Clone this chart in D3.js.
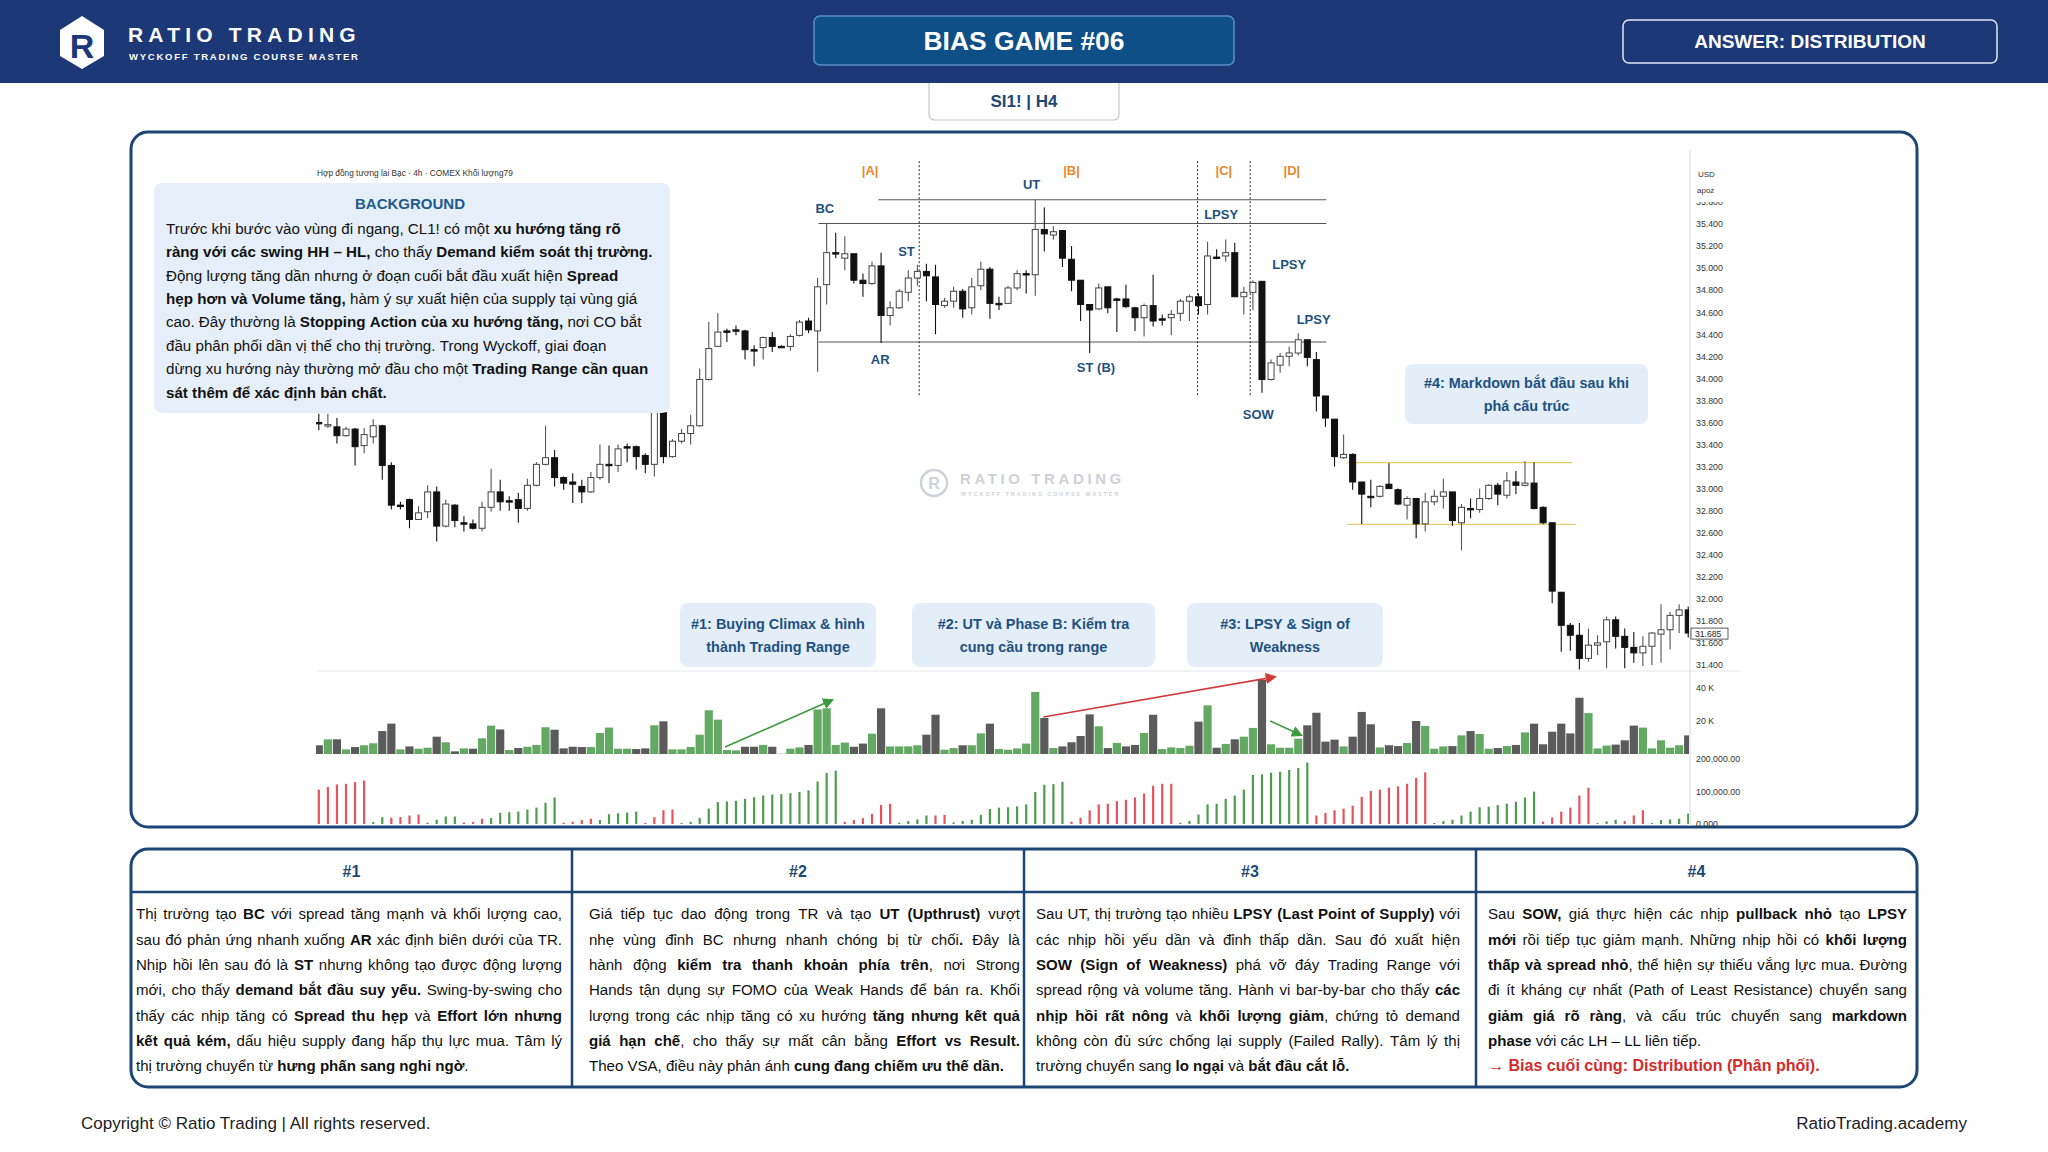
<!DOCTYPE html>
<html><head><meta charset="utf-8">
<script src="https://cdn.jsdelivr.net/npm/d3@7"></script>
<style>html,body{margin:0;padding:0;background:#fff;}svg{display:block;}</style>
</head><body>
<svg id="c" width="2048" height="1152"></svg>
<script>
// ---------------- DATA ----------------
const opens = [33.60,33.57,33.56,33.48,33.54,33.39,33.47,33.57,33.21,32.85,32.90,32.72,32.79,32.97,32.66,32.85,32.69,32.68,32.64,32.83,
32.97,32.89,32.90,32.82,33.03,33.22,33.28,33.10,33.06,33.02,32.97,33.10,33.22,33.21,33.38,33.38,33.30,33.22,33.69,33.29,
33.43,33.50,33.57,33.99,34.29,34.43,34.44,34.43,34.26,34.28,34.37,34.29,34.29,34.39,34.52,34.43,34.85,35.14,35.09,35.13,
34.89,34.86,35.02,34.57,34.64,34.78,34.91,34.97,34.92,34.66,34.70,34.79,34.64,34.84,34.99,34.68,34.68,34.82,34.95,34.94,
35.35,35.30,35.34,35.08,34.89,34.67,34.63,34.83,34.72,34.72,34.64,34.55,34.66,34.54,34.55,34.59,34.70,34.74,34.67,35.10,
35.11,35.14,34.74,34.78,34.88,33.99,34.12,34.20,34.23,34.35,34.17,33.84,33.63,33.28,33.31,33.06,32.93,32.93,33.04,32.99,
32.85,32.91,32.68,32.88,32.93,32.97,32.69,32.82,32.81,32.91,33.03,32.94,33.06,33.03,33.05,32.83,32.69,32.06,31.76,31.67,
31.46,31.58,31.61,31.81,31.66,31.56,31.51,31.57,31.68,31.72,31.85,31.90];
const highs = [33.68,33.68,33.64,33.56,33.55,33.55,33.63,33.58,33.24,32.88,32.91,32.84,33.03,33.02,32.90,32.86,32.75,32.72,32.88,33.18,
33.08,32.93,32.96,33.09,33.24,33.57,33.35,33.11,33.14,33.08,33.15,33.40,33.39,33.40,33.41,33.39,33.32,33.73,33.73,33.45,
33.54,33.67,34.09,34.51,34.59,34.45,34.48,34.44,34.30,34.38,34.42,34.30,34.40,34.53,34.55,34.91,35.41,35.32,35.29,35.13,
34.95,35.06,35.14,34.70,34.81,34.98,35.03,35.04,35.03,34.73,34.83,34.81,34.91,35.06,35.01,34.74,34.84,34.98,34.98,35.62,
35.55,35.38,35.34,35.20,34.89,34.67,34.86,34.83,34.73,34.85,34.65,34.68,34.94,34.58,34.62,34.72,34.76,34.77,35.24,35.17,
35.26,35.23,34.83,34.89,34.88,34.17,34.23,34.29,34.41,34.35,34.24,33.84,33.63,33.49,33.32,33.06,33.08,33.03,33.23,33.00,
32.93,32.91,32.96,32.99,33.09,32.97,32.86,32.91,33.00,33.04,33.05,33.15,33.16,33.25,33.24,32.84,32.69,32.06,31.78,31.78,
31.73,31.67,31.84,31.84,31.73,31.70,31.66,31.70,31.95,31.88,31.95,31.93];
const lows = [33.53,33.55,33.41,33.47,33.21,33.32,33.41,33.08,32.81,32.81,32.64,32.72,32.73,32.52,32.65,32.65,32.61,32.63,32.61,32.79,
32.80,32.80,32.69,32.80,33.02,33.21,33.02,32.99,32.87,32.87,32.96,33.08,33.05,33.15,33.24,33.17,33.14,33.11,33.23,33.28,
33.41,33.40,33.56,33.98,34.29,34.33,34.39,34.17,34.11,34.17,34.24,34.28,34.25,34.38,34.41,34.06,34.67,35.09,34.98,34.86,
34.74,34.85,34.32,34.48,34.63,34.70,34.84,34.70,34.40,34.64,34.64,34.55,34.58,34.80,34.54,34.62,34.68,34.80,34.77,34.75,
35.15,35.26,35.01,34.79,34.52,34.23,34.62,34.59,34.42,34.64,34.43,34.38,34.47,34.48,34.39,34.52,34.52,34.58,34.58,35.08,
35.06,34.74,34.58,34.62,33.87,33.98,34.05,34.11,34.21,34.11,33.70,33.56,33.20,33.27,32.99,32.68,32.83,32.92,33.00,32.85,
32.72,32.55,32.61,32.85,32.82,32.66,32.44,32.73,32.78,32.90,32.85,32.91,32.95,33.02,32.81,32.68,31.96,31.52,31.53,31.36,
31.43,31.49,31.37,31.55,31.37,31.42,31.39,31.40,31.42,31.54,31.69,31.65];
const closes = [33.59,33.58,33.48,33.54,33.38,33.49,33.57,33.21,32.85,32.85,32.72,32.78,32.97,32.66,32.86,32.71,32.69,32.64,32.83,32.97,
32.88,32.89,32.82,33.03,33.22,33.28,33.10,33.05,33.04,32.97,33.10,33.22,33.22,33.36,33.38,33.29,33.22,33.69,33.29,33.43,
33.50,33.57,33.99,34.27,34.42,34.43,34.44,34.26,34.25,34.37,34.29,34.29,34.38,34.51,34.44,34.83,35.14,35.14,35.13,34.89,
34.86,35.02,34.57,34.64,34.79,34.91,34.97,34.93,34.67,34.70,34.79,34.63,34.83,34.99,34.68,34.68,34.82,34.95,34.95,35.35,
35.31,35.33,35.09,34.89,34.67,34.62,34.82,34.64,34.72,34.65,34.55,34.66,34.52,34.54,34.58,34.70,34.74,34.66,35.11,35.09,
35.14,34.74,34.78,34.87,33.99,34.14,34.20,34.23,34.35,34.19,33.84,33.64,33.29,33.31,33.06,32.95,32.92,33.02,33.00,32.86,
32.91,32.68,32.88,32.93,32.97,32.71,32.83,32.81,32.91,33.03,32.95,33.07,33.03,33.05,32.82,32.69,32.07,31.76,31.67,31.46,
31.58,31.60,31.81,31.66,31.56,31.51,31.57,31.69,31.72,31.85,31.90,31.69];
// volume in thousands
const volumes = [5.3,8.9,8.9,2.8,4.2,5.3,6.5,13.9,18.4,2.8,4.6,3.2,3.8,10.5,7.1,1.6,3.4,3.2,9.5,17.2,
14.9,2.4,3.6,4.4,5.5,16.2,14.7,3.4,4.4,4.2,4.2,12.7,16.0,3.2,3.2,3.0,3.4,17.4,19.8,2.8,
2.8,4.2,11.7,26.5,20.8,2.4,2.2,4.4,4.4,5.5,4.4,0.2,3.2,4.0,5.5,27.0,27.7,5.5,6.9,4.4,
6.3,12.3,27.7,4.6,4.6,4.6,5.3,11.7,23.8,2.6,3.6,5.3,5.3,12.5,18.4,3.0,2.6,3.4,6.3,37.6,
21.8,3.6,4.6,7.1,10.9,24.0,16.8,3.6,6.7,4.6,5.5,12.7,23.8,3.0,4.0,3.6,5.0,19.6,29.5,3.8,
6.1,8.9,10.5,15.8,45.0,5.9,3.8,3.8,9.3,17.4,25.0,7.5,8.7,4.6,10.5,25.5,18.0,4.0,5.3,4.8,
6.7,20.0,17.0,3.2,4.6,4.8,11.3,13.9,12.1,3.2,3.6,4.8,5.5,13.1,18.4,5.9,13.5,18.4,12.5,34.1,
24.8,3.4,5.1,5.7,8.3,17.2,16.0,3.4,8.3,3.8,5.3,11.3];
// wave volume (thousands) — negative = selling wave (red)
const waveVolume = [-105,-113,-121,-123,-128,-133,6,21,-19,-21,-26,-29,4,13,23,23,-4,-6,-16,18,
34,36,38,44,50,65,81,-4,-7,-12,-16,12,30,33,35,38,-3,-21,-42,-44,
3,7,19,47,67,69,71,77,82,87,90,91,94,98,103,130,156,163,-7,-12,
-18,-31,-58,-62,4,9,14,26,-26,-28,5,9,13,28,46,50,51,54,60,98,
120,122,129,-7,-19,-42,-60,-62,-70,-74,-81,-93,-117,-123,-123,4,9,29,60,62,
77,87,105,150,152,157,160,165,171,188,-26,-34,-42,-47,-56,-83,-101,-105,-111,-115,
-123,-141,-158,3,9,13,26,38,51,53,58,62,68,81,99,-7,-20,-38,-50,-87,
-111,3,8,13,-9,-26,-42,3,12,14,16,32];
const priceTicks = [31.4,31.6,31.8,32.0,32.2,32.4,32.6,32.8,33.0,33.2,33.4,33.6,33.8,34.0,34.2,34.4,34.6,34.8,35.0,35.2,35.4,35.6];
const volTicks = [20,40];
const waveTicks = [0,100,200];
const lastPrice = 31.685;

const eventLabels = [
 {t:'BC',i:56.8,p:35.545},{t:'UT',i:79.6,p:35.763},{t:'ST',i:65.8,p:35.155},{t:'AR',i:62.9,p:34.176},
 {t:'ST (B)',i:86.7,p:34.103},{t:'LPSY',i:100.5,p:35.49},{t:'LPSY',i:108.0,p:35.037},{t:'LPSY',i:110.7,p:34.538},
 {t:'SOW',i:104.6,p:33.677}];
const phaseLabels = [{t:'|A|',i:61.8},{t:'|B|',i:84.0},{t:'|C|',i:100.8},{t:'|D|',i:108.3}];
const phaseDividers = [67.2,97.9,103.7];
const levelLines = [
 {p:35.62,i1:62.7,i2:112.1,kind:'range'},{p:35.405,i1:56.1,i2:112.1,kind:'range'},{p:34.33,i1:56.1,i2:112.1,kind:'range'},
 {p:33.235,i1:114.4,i2:139.2,kind:'re'},{p:32.676,i1:114.4,i2:139.6,kind:'re'}];
const volArrows = [
 {i1:45.8,v1:4.2,i2:57.6,v2:32.7,c:'#3d9b3d'},{i1:80.9,v1:22.4,i2:106.4,v2:46.7,c:'#d23a3a'},{i1:105.9,v1:20,i2:109.3,v2:11.5,c:'#3d9b3d'}];

const bgLines = [
"Trước khi bước vào vùng đi ngang, CL1! có một **xu hướng tăng rõ**",
"**ràng với các swing HH – HL,** cho thấy **Demand kiểm soát thị trường.**",
"Động lượng tăng dần nhưng ở đoạn cuối bắt đầu xuất hiện **Spread**",
"**hẹp hơn và Volume tăng,** hàm ý sự xuất hiện của supply tại vùng giá",
"cao. Đây thường là **Stopping Action của xu hướng tăng,** nơi CO bắt",
"đầu phân phối dần vị thế cho thị trường. Trong Wyckoff, giai đoạn",
"dừng xu hướng này thường mở đầu cho một **Trading Range cần quan**",
"**sát thêm để xác định bản chất.**"];
const noteBoxes = [
 {lines:["#1: Buying Climax & hình","thành Trading Range"],x:680,y:603,w:196,h:64},
 {lines:["#2: UT và Phase B: Kiểm tra","cung cầu trong range"],x:912,y:603,w:243,h:64},
 {lines:["#3: LPSY & Sign of","Weakness"],x:1187,y:603,w:196,h:64},
 {lines:["#4: Markdown bắt đầu sau khi","phá cấu trúc"],x:1405,y:364,w:243,h:60}];
const tableHeads = ["#1","#2","#3","#4"];
const tableCols = [
 ["Thị trường tạo **BC** với spread tăng mạnh và khối lượng cao,",
  "sau đó phản ứng nhanh xuống **AR** xác định biên dưới của TR.",
  "Nhịp hồi lên sau đó là **ST** nhưng không tạo được động lượng",
  "mới, cho thấy **demand bắt đầu suy yếu.** Swing-by-swing cho",
  "thấy các nhịp tăng có **Spread thu hẹp** và **Effort lớn nhưng**",
  "**kết quả kém,** dấu hiệu supply đang hấp thụ lực mua. Tâm lý",
  "thị trường chuyển từ **hưng phấn sang nghi ngờ**."],
 ["Giá tiếp tục dao động trong TR và tạo **UT (Upthrust)** vượt",
  "nhẹ vùng đỉnh BC nhưng nhanh chóng bị từ chối**.** Đây là",
  "hành động **kiểm tra thanh khoản phía trên**, nơi Strong",
  "Hands tận dụng sự FOMO của Weak Hands để bán ra. Khối",
  "lượng trong các nhịp tăng có xu hướng **tăng nhưng kết quả**",
  "**giá hạn chế**, cho thấy sự mất cân bằng **Effort vs Result.**",
  "Theo VSA, điều này phản ánh **cung đang chiếm ưu thế dần.**"],
 ["Sau UT, thị trường tạo nhiều **LPSY (Last Point of Supply)** với",
  "các nhịp hồi yếu dần và đỉnh thấp dần. Sau đó xuất hiện",
  "**SOW (Sign of Weakness)** phá vỡ đáy Trading Range với",
  "spread rộng và volume tăng. Hành vi bar-by-bar cho thấy **các**",
  "**nhịp hồi rất nông** và **khối lượng giảm**, chứng tỏ demand",
  "không còn đủ sức chống lại supply (Failed Rally). Tâm lý thị",
  "trường chuyển sang **lo ngại** và **bắt đầu cắt lỗ.**"],
 ["Sau **SOW,** giá thực hiện các nhịp **pullback nhỏ** tạo **LPSY**",
  "**mới** rồi tiếp tục giảm mạnh. Những nhịp hồi có **khối lượng**",
  "**thấp và spread nhỏ**, thể hiện sự thiếu vắng lực mua. Đường",
  "đi ít kháng cự nhất (Path of Least Resistance) chuyển sang",
  "**giảm giá rõ ràng**, và cấu trúc chuyển sang **markdown**",
  "**phase** với các LH – LL liên tiếp.",
  "**→ Bias cuối cùng: Distribution (Phân phối).**"]];
const justifyCount = [6,6,6,5];

// ---------------- HELPERS ----------------
const F = "'Liberation Sans', Arial, Helvetica, sans-serif";
const cvs = document.createElement('canvas').getContext('2d');
function tw(s,size,bold){ cvs.font=(bold?'bold ':'')+size+'px '+F; return cvs.measureText(s).width; }
function parseRich(line){
  const words=[]; let cur=[]; let bold=false; let buf='';
  const flush=()=>{ if(buf){cur.push({t:buf,b:bold}); buf='';} };
  for(let i=0;i<line.length;i++){
    if(line[i]==='*'&&line[i+1]==='*'){flush(); bold=!bold; i++; continue;}
    if(line[i]===' '){flush(); if(cur.length) words.push(cur); cur=[]; continue;}
    buf+=line[i];
  }
  flush(); if(cur.length) words.push(cur);
  return words;
}
function richWidth(line,size){
  const w=parseRich(line); return d3.sum(w,ws=>d3.sum(ws,r=>tw(r.t,size,r.b)))+tw(' ',size,false)*(w.length-1);
}
function drawRich(g,line,x,y,width,size,justify,color){
  const words=parseRich(line);
  const ww=words.map(w=>d3.sum(w,r=>tw(r.t,size,r.b)));
  const sp=tw(' ',size,false);
  let gap=sp;
  if(justify&&words.length>1) gap=(width-d3.sum(ww))/(words.length-1);
  let cx=x;
  words.forEach((w,k)=>{
    const t=g.append('text').attr('x',cx).attr('y',y).attr('font-size',size).attr('fill',color).attr('font-family',F);
    w.forEach(r=>t.append('tspan').attr('font-weight',r.b?'bold':'normal').text(r.t));
    cx+=ww[k]+gap;
  });
}
function fitSize(text,bold,target,base){ return base*target/tw(text,base,bold); }

const svg=d3.select('#c');
const NAVY='#1c3876', DEEP='#1d4775', LABEL='#1e5180';

// ---------------- HEADER ----------------
svg.append('rect').attr('x',0).attr('y',0).attr('width',2048).attr('height',83).attr('fill',NAVY);
const lg=svg.append('g');
lg.append('path').attr('d','M60,30 L82,16 L104,30 L104,56 L82,69 L60,56 Z').attr('fill','#fff');
lg.append('text').attr('x',82).attr('y',58).attr('text-anchor','middle').attr('font-family',F).attr('font-weight','bold')
  .attr('font-size',34).attr('fill',NAVY).text('R');
svg.append('text').attr('x',128).attr('y',42).attr('font-family',F).attr('font-weight','bold').attr('font-size',21)
  .attr('letter-spacing',5.2).attr('fill','#fff').text('RATIO TRADING');
svg.append('text').attr('x',129).attr('y',60).attr('font-family',F).attr('font-weight','bold').attr('font-size',9.5)
  .attr('letter-spacing',1.75).attr('fill','#fff').text('WYCKOFF TRADING COURSE MASTER');
svg.append('rect').attr('x',814).attr('y',16).attr('width',420).attr('height',49).attr('rx',6)
  .attr('fill','#0d4f86').attr('stroke','#5a8fc7').attr('stroke-width',1.5);
svg.append('text').attr('x',1024).attr('y',50).attr('text-anchor','middle').attr('font-family',F).attr('font-weight','bold')
  .attr('font-size',fitSize('BIAS GAME #06',true,201,26)).attr('fill','#fff').text('BIAS GAME #06');
svg.append('rect').attr('x',1623).attr('y',20).attr('width',374).attr('height',43).attr('rx',6)
  .attr('fill',NAVY).attr('stroke','#dfe7f3').attr('stroke-width',1.5);
svg.append('text').attr('x',1810).attr('y',48).attr('text-anchor','middle').attr('font-family',F).attr('font-weight','bold')
  .attr('font-size',fitSize('ANSWER: DISTRIBUTION',true,232,19)).attr('fill','#fff').text('ANSWER: DISTRIBUTION');
svg.append('path').attr('d','M929,83 L929,114 Q929,120 935,120 L1113,120 Q1119,120 1119,114 L1119,83')
  .attr('fill','#fff').attr('stroke','#c3c7ce').attr('stroke-width',1.2);
svg.append('text').attr('x',1024).attr('y',107).attr('text-anchor','middle').attr('font-family',F).attr('font-weight','bold')
  .attr('font-size',17).attr('fill',DEEP).text('SI1! | H4');

// ---------------- CHART PANEL ----------------
svg.append('rect').attr('x',131).attr('y',132).attr('width',1786).attr('height',695).attr('rx',17)
  .attr('fill','#fff').attr('stroke','#1c4474').attr('stroke-width',3);

const N=opens.length;
const x=d3.scaleLinear().domain([1,N]).range([318.8,318.8+(N-1)*9.069]);
const y=d3.scaleLinear().domain([31.4,35.4]).range([665,224]);
const yv=d3.scaleLinear().domain([0,40]).range([754,688]);
const yw=d3.scaleLinear().domain([0,200]).range([824,758.6]);

const defs=svg.append('defs');
defs.append('clipPath').attr('id','plot').append('rect').attr('x',316).attr('y',140).attr('width',1373).attr('height',690);
defs.append('clipPath').attr('id','axclip').append('rect').attr('x',1690).attr('y',202).attr('width',60).attr('height',476);
['#3d9b3d','#d23a3a'].forEach((c,k)=>{
  defs.append('marker').attr('id','ah'+k).attr('viewBox','0 0 10 10').attr('refX',8).attr('refY',5)
   .attr('markerWidth',7).attr('markerHeight',7).attr('orient','auto')
   .append('path').attr('d','M0,0 L10,5 L0,10 Z').attr('fill',c);
});

// watermark
const wm=svg.append('g').attr('opacity',0.9);
wm.append('circle').attr('cx',934).attr('cy',483).attr('r',13).attr('fill','none').attr('stroke','#c9cdd4').attr('stroke-width',2.5);
wm.append('text').attr('x',934).attr('y',489).attr('text-anchor','middle').attr('font-family',F).attr('font-weight','bold')
  .attr('font-size',16).attr('fill','#c9cdd4').text('R');
wm.append('text').attr('x',960).attr('y',484).attr('font-family',F).attr('font-weight','bold').attr('font-size',15)
  .attr('letter-spacing',3.6).attr('fill','#c9cdd4').text('RATIO TRADING');
wm.append('text').attr('x',961).attr('y',496).attr('font-family',F).attr('font-weight','bold').attr('font-size',5.5)
  .attr('letter-spacing',1.9).attr('fill','#c9cdd4').text('WYCKOFF TRADING COURSE MASTER');

svg.append('text').attr('x',317).attr('y',176).attr('font-family',F).attr('font-size',8.3).attr('fill','#333')
  .text('Hợp đồng tương lai Bạc · 4h · COMEX  Khối lượng79');

svg.append('line').attr('x1',317).attr('x2',1741).attr('y1',671).attr('y2',671).attr('stroke','#e3e5e8').attr('stroke-width',1.2);

const plot=svg.append('g').attr('clip-path','url(#plot)');

plot.selectAll('.lvl').data(levelLines).enter().append('line')
  .attr('x1',d=>x(d.i1)).attr('x2',d=>x(d.i2)).attr('y1',d=>y(d.p)).attr('y2',d=>y(d.p))
  .attr('stroke',d=>d.kind==='range'?'#555':'#e5cd6a').attr('stroke-width',d=>d.kind==='range'?1.1:1.3);
plot.selectAll('.pd').data(phaseDividers).enter().append('line')
  .attr('x1',d=>x(d)).attr('x2',d=>x(d)).attr('y1',y(35.97)).attr('y2',y(33.84))
  .attr('stroke','#222').attr('stroke-width',1).attr('stroke-dasharray','2,2');

const idx=d3.range(1,N+1);
const cg=plot.append('g');
cg.selectAll('.wick').data(idx).enter().append('line')
  .attr('x1',i=>x(i)).attr('x2',i=>x(i)).attr('y1',i=>y(highs[i-1])).attr('y2',i=>y(lows[i-1]))
  .attr('stroke',i=>closes[i-1]>opens[i-1]?'#555':'#111').attr('stroke-width',1.1);
cg.selectAll('.body').data(idx).enter().append('rect')
  .attr('x',i=>x(i)-3).attr('width',6)
  .attr('y',i=>y(Math.max(opens[i-1],closes[i-1])))
  .attr('height',i=>Math.max(1.4,Math.abs(y(opens[i-1])-y(closes[i-1]))))
  .attr('fill',i=>closes[i-1]>opens[i-1]?'#fff':'#111')
  .attr('stroke',i=>closes[i-1]>opens[i-1]?'#444':'#111').attr('stroke-width',1);

plot.selectAll('.vol').data(idx).enter().append('rect')
  .attr('x',i=>x(i)-4.1).attr('width',8.2)
  .attr('y',i=>yv(volumes[i-1])).attr('height',i=>yv(0)-yv(volumes[i-1]))
  .attr('fill',i=>closes[i-1]>=opens[i-1]?'#63a863':'#5b5b5b');
plot.selectAll('.wv').data(idx).enter().append('rect')
  .attr('x',i=>x(i)-1.1).attr('width',2.2)
  .attr('y',i=>yw(Math.abs(waveVolume[i-1]))).attr('height',i=>yw(0)-yw(Math.abs(waveVolume[i-1])))
  .attr('fill',i=>waveVolume[i-1]<0?'#e2545e':'#4f9c4f');
svg.selectAll('.arw').data(volArrows).enter().append('line')
  .attr('x1',d=>x(d.i1)).attr('y1',d=>yv(d.v1)).attr('x2',d=>x(d.i2)).attr('y2',d=>yv(d.v2))
  .attr('stroke',d=>d.c).attr('stroke-width',1.6)
  .attr('marker-end',d=>d.c==='#d23a3a'?'url(#ah1)':'url(#ah0)');

svg.selectAll('.ev').data(eventLabels).enter().append('text')
  .attr('x',d=>x(d.i)).attr('y',d=>y(d.p)+4.6).attr('text-anchor','middle')
  .attr('font-family',F).attr('font-weight','bold').attr('font-size',13).attr('fill',LABEL).text(d=>d.t);
svg.selectAll('.ph').data(phaseLabels).enter().append('text')
  .attr('x',d=>x(d.i)).attr('y',y(35.89)+4.6).attr('text-anchor','middle')
  .attr('font-family',F).attr('font-weight','bold').attr('font-size',13).attr('fill','#e8892c').text(d=>d.t);

// right axis
svg.append('line').attr('x1',1690).attr('x2',1690).attr('y1',150).attr('y2',826).attr('stroke','#d6d8dc').attr('stroke-width',1);
const axWrap=svg.append('g').attr('clip-path','url(#axclip)');
const axg=axWrap.append('g').attr('transform','translate(1690,0)')
  .call(d3.axisRight(y).tickValues(priceTicks).tickFormat(d3.format('.3f')).tickSize(0).tickPadding(6));
const axv=svg.append('g').attr('transform','translate(1690,0)')
  .call(d3.axisRight(yv).tickValues(volTicks).tickFormat(d=>d+' K').tickSize(0).tickPadding(6));
const axw=svg.append('g').attr('transform','translate(1690,0)')
  .call(d3.axisRight(yw).tickValues(waveTicks).tickFormat(d=>d===0?'0.000':d3.format(',.2f')(d*1000)).tickSize(0).tickPadding(6));
[axg,axv,axw].forEach(a=>{a.select('.domain').remove(); a.selectAll('text').attr('font-family',F).attr('font-size',8.8).attr('fill','#333');});
svg.append('text').attr('x',1698).attr('y',177).attr('font-family',F).attr('font-size',8).attr('fill','#333').text('USD');
svg.append('text').attr('x',1697).attr('y',193).attr('font-family',F).attr('font-size',8).attr('fill','#333').text('apoz');
svg.append('rect').attr('x',1691).attr('y',y(lastPrice)-5.5).attr('width',37).attr('height',11).attr('fill','#fff').attr('stroke','#333').attr('stroke-width',0.8);
svg.append('text').attr('x',1695).attr('y',y(lastPrice)+3).attr('font-family',F).attr('font-size',8.6).attr('fill','#222').text(lastPrice.toFixed(3));

// background box
svg.append('rect').attr('x',154).attr('y',183).attr('width',516).attr('height',230).attr('rx',8).attr('fill','#e6eff9');
svg.append('text').attr('x',410).attr('y',209).attr('text-anchor','middle').attr('font-family',F).attr('font-weight','bold')
  .attr('font-size',15).attr('fill','#1f5a8c').text('BACKGROUND');
const bgSize=14*487/richWidth(bgLines[1],14);
const bgG=svg.append('g');
bgLines.forEach((l,k)=>drawRich(bgG,l,166,228.3+k*23.4+bgSize*0.36,0,bgSize,false,'#111'));

noteBoxes.forEach((b,k)=>{
  svg.append('rect').attr('x',b.x).attr('y',b.y).attr('width',b.w).attr('height',b.h).attr('rx',8).attr('fill','#e4eef9');
  const fs=fitSize('#1: Buying Climax & hình',true,174,14);
  b.lines.forEach((l,j)=>{
    svg.append('text').attr('x',b.x+b.w/2).attr('y',b.y+b.h/2+(j-0.5)*23+fs*0.36).attr('text-anchor','middle')
      .attr('font-family',F).attr('font-weight','bold').attr('font-size',fs).attr('fill',LABEL).text(l);
  });
});

// ---------------- TABLE ----------------
const colX=[131,572,1024,1476,1917];
const textRange=[[136,562],[589,1020],[1036,1460],[1488,1907]];
svg.append('rect').attr('x',131).attr('y',849).attr('width',1786).attr('height',238).attr('rx',17)
  .attr('fill','#fff').attr('stroke','#1c4474').attr('stroke-width',3);
svg.append('line').attr('x1',132).attr('x2',1916).attr('y1',892).attr('y2',892).attr('stroke','#1c4474').attr('stroke-width',2.5);
[1,2,3].forEach(k=>svg.append('line').attr('x1',colX[k]).attr('x2',colX[k]).attr('y1',850).attr('y2',1086)
  .attr('stroke','#1c4474').attr('stroke-width',2.5));
const tSize=Math.max(13,Math.min(16,14*415/richWidth(tableCols[1][6],14)));
tableCols.forEach((lines,c)=>{
  svg.append('text').attr('x',(colX[c]+colX[c+1])/2).attr('y',877).attr('text-anchor','middle')
    .attr('font-family',F).attr('font-weight','bold').attr('font-size',16).attr('fill',DEEP).text(tableHeads[c]);
  const g=svg.append('g');
  const [a,b]=textRange[c];
  lines.forEach((l,j)=>{
    const red=(c===3&&j===6);
    drawRich(g,l,a,914+j*25.3+tSize*0.36,b-a,red?tSize+1:tSize,j<justifyCount[c],red?'#d42b2b':'#111');
  });
});

svg.append('text').attr('x',81).attr('y',1129).attr('font-family',F).attr('font-size',fitSize('Copyright © Ratio Trading | All rights reserved.',false,351,16))
  .attr('fill','#222').text('Copyright © Ratio Trading | All rights reserved.');
svg.append('text').attr('x',1967).attr('y',1129).attr('text-anchor','end').attr('font-family',F)
  .attr('font-size',fitSize('RatioTrading.academy',false,171,16)).attr('fill','#222').text('RatioTrading.academy');
</script></body></html>
